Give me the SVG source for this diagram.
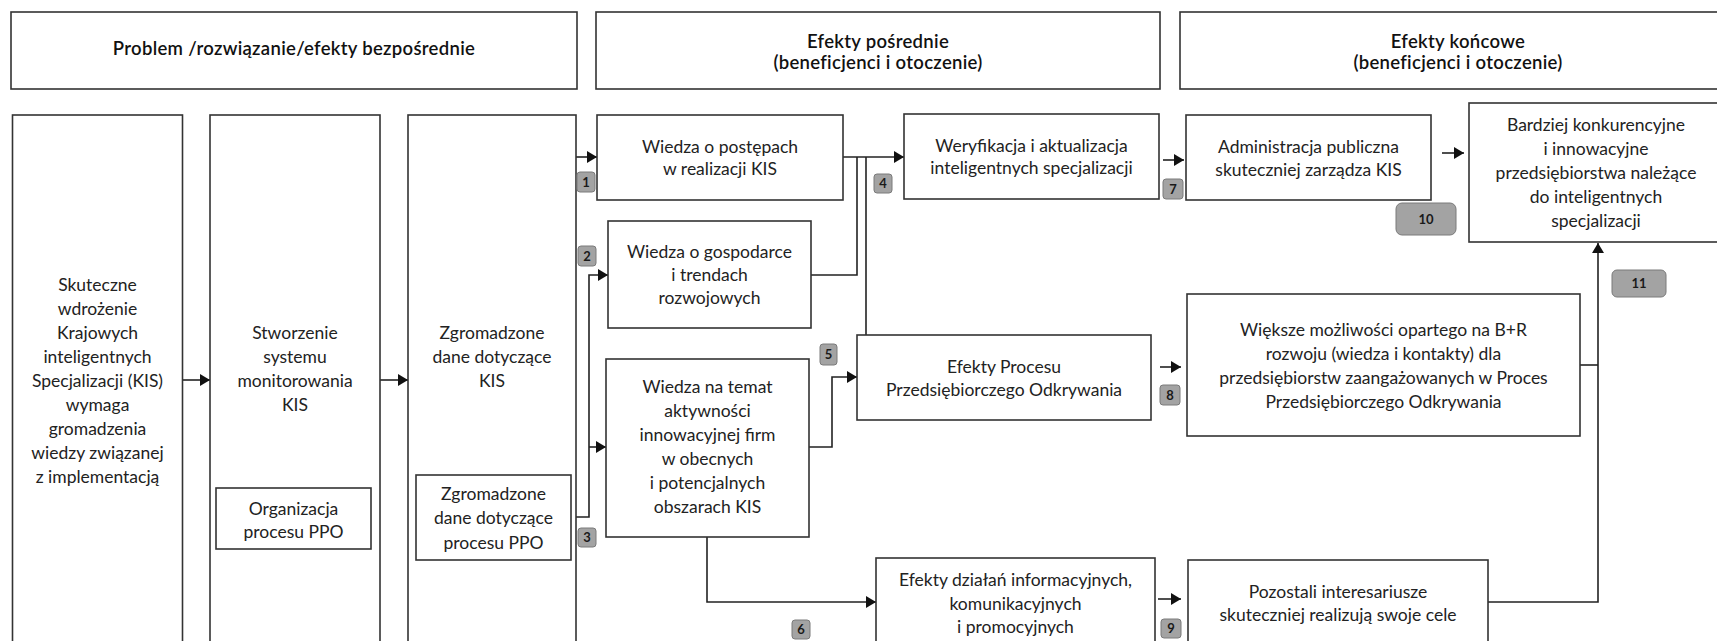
<svg xmlns="http://www.w3.org/2000/svg" width="1717" height="641" viewBox="0 0 1717 641">
  <defs>
    <marker id="arr" markerUnits="userSpaceOnUse" markerWidth="11" markerHeight="12" refX="10" refY="6" orient="auto">
      <path d="M0,0 L10,6 L0,12 z" fill="#111"/>
    </marker>
    <style>
      .box { fill: #fff; stroke: #333; stroke-width: 1.6; }
      .t { font-family: Lato, "Liberation Sans", sans-serif; font-size: 17.5px; fill: #222; text-anchor: middle; }
      .h { font-family: Lato, "Liberation Sans", sans-serif; font-size: 18.5px; font-weight: 600; letter-spacing: 0.3px; fill: #111; text-anchor: middle; }
      .ln { fill: none; stroke: #222; stroke-width: 1.6; }
      .ar { fill: none; stroke: #222; stroke-width: 1.6; marker-end: url(#arr); }
      .bd { fill: #a3a3a3; stroke: #7a7a7a; stroke-width: 1; }
      .bt { font-family: Lato, "Liberation Sans", sans-serif; font-size: 13px; font-weight: 700; fill: #1a1a1a; text-anchor: middle; }
    </style>
  </defs>
  <rect width="1717" height="641" fill="#fff"/>

  <!-- column headers -->
  <g id="header-problem">
    <rect class="box" x="11" y="12" width="566" height="77"/>
    <text class="h" x="294" y="55">Problem /rozwiązanie/efekty bezpośrednie</text>
  </g>
  <g id="header-intermediate">
    <rect class="box" x="596" y="12" width="564" height="77"/>
    <text class="h" x="878" y="48">Efekty pośrednie</text>
    <text class="h" x="878" y="69">(beneficjenci i otoczenie)</text>
  </g>
  <g id="header-final">
    <rect class="box" x="1180" y="12" width="564" height="77"/>
    <text class="h" x="1458" y="48">Efekty końcowe</text>
    <text class="h" x="1458" y="69">(beneficjenci i otoczenie)</text>
  </g>

  <!-- connectors -->
  <g id="connectors">
    <path class="ar" d="M183,380 H210"/>
    <path class="ar" d="M380,380 H408"/>
    <path class="ar" d="M576,157 H597"/>
    <path class="ar" d="M571,517 H589 V275 H608"/>
    <path class="ar" d="M589,447 H606"/>
    <path class="ar" d="M843,157 H904"/>
    <path class="ln" d="M811,275 H857 V157"/>
    <path class="ln" d="M866,335 V157"/>
    <path class="ar" d="M809,447 H832 V377 H857"/>
    <path class="ar" d="M707,537 V602 H876"/>
    <path class="ar" d="M1163,160 H1184"/>
    <path class="ar" d="M1442,153 H1464"/>
    <path class="ar" d="M1160,367 H1181"/>
    <path class="ar" d="M1158,599 H1181"/>
    <path class="ln" d="M1580,365 H1598"/>
    <path class="ar" d="M1488,602 H1598 V243"/>
  </g>

  <!-- problem / solution / direct effects -->
  <g id="node-skuteczne">
    <rect class="box" x="12.5" y="115" width="170" height="545"/>
    <text class="t" x="97.5" y="291">Skuteczne</text>
    <text class="t" x="97.5" y="315">wdrożenie</text>
    <text class="t" x="97.5" y="339">Krajowych</text>
    <text class="t" x="97.5" y="363">inteligentnych</text>
    <text class="t" x="97.5" y="387">Specjalizacji (KIS)</text>
    <text class="t" x="97.5" y="411">wymaga</text>
    <text class="t" x="97.5" y="435">gromadzenia</text>
    <text class="t" x="97.5" y="459">wiedzy związanej</text>
    <text class="t" x="97.5" y="483">z implementacją</text>
  </g>
  <g id="node-stworzenie">
    <rect class="box" x="210" y="115" width="170" height="545"/>
    <text class="t" x="295" y="339">Stworzenie</text>
    <text class="t" x="295" y="363">systemu</text>
    <text class="t" x="295" y="387">monitorowania</text>
    <text class="t" x="295" y="411">KIS</text>
  </g>
  <g id="node-organizacja">
    <rect class="box" x="216" y="488" width="155" height="61"/>
    <text class="t" x="293.5" y="515">Organizacja</text>
    <text class="t" x="293.5" y="538">procesu PPO</text>
  </g>
  <g id="node-dane-kis">
    <rect class="box" x="408" y="115" width="168" height="545"/>
    <text class="t" x="492" y="339">Zgromadzone</text>
    <text class="t" x="492" y="363">dane dotyczące</text>
    <text class="t" x="492" y="387">KIS</text>
  </g>
  <g id="node-dane-ppo">
    <rect class="box" x="416" y="475" width="155" height="85"/>
    <text class="t" x="493.5" y="500">Zgromadzone</text>
    <text class="t" x="493.5" y="524">dane dotyczące</text>
    <text class="t" x="493.5" y="549">procesu PPO</text>
  </g>

  <!-- intermediate effects -->
  <g id="node-wiedza-postepy">
    <rect class="box" x="597" y="115" width="246" height="85"/>
    <text class="t" x="720" y="153">Wiedza o postępach</text>
    <text class="t" x="720" y="175">w realizacji KIS</text>
  </g>
  <g id="node-wiedza-gospodarka">
    <rect class="box" x="608" y="221" width="203" height="107"/>
    <text class="t" x="709.5" y="258">Wiedza o gospodarce</text>
    <text class="t" x="709.5" y="281">i trendach</text>
    <text class="t" x="709.5" y="304">rozwojowych</text>
  </g>
  <g id="node-wiedza-aktywnosc">
    <rect class="box" x="606" y="359" width="203" height="178"/>
    <text class="t" x="707.5" y="393">Wiedza na temat</text>
    <text class="t" x="707.5" y="417">aktywności</text>
    <text class="t" x="707.5" y="441">innowacyjnej firm</text>
    <text class="t" x="707.5" y="465">w obecnych</text>
    <text class="t" x="707.5" y="489">i potencjalnych</text>
    <text class="t" x="707.5" y="513">obszarach KIS</text>
  </g>
  <g id="node-weryfikacja">
    <rect class="box" x="904" y="114" width="255" height="85"/>
    <text class="t" x="1031.5" y="152">Weryfikacja i aktualizacja</text>
    <text class="t" x="1031.5" y="174">inteligentnych specjalizacji</text>
  </g>
  <g id="node-efekty-procesu">
    <rect class="box" x="857" y="335" width="294" height="85"/>
    <text class="t" x="1004" y="373">Efekty Procesu</text>
    <text class="t" x="1004" y="396">Przedsiębiorczego Odkrywania</text>
  </g>
  <g id="node-efekty-dzialan">
    <rect class="box" x="876" y="558" width="279" height="100"/>
    <text class="t" x="1015.5" y="586">Efekty działań informacyjnych,</text>
    <text class="t" x="1015.5" y="610">komunikacyjnych</text>
    <text class="t" x="1015.5" y="633">i promocyjnych</text>
  </g>

  <!-- final effects -->
  <g id="node-administracja">
    <rect class="box" x="1186" y="115" width="245" height="85"/>
    <text class="t" x="1308.5" y="153">Administracja publiczna</text>
    <text class="t" x="1308.5" y="176">skuteczniej zarządza KIS</text>
  </g>
  <g id="node-bardziej">
    <rect class="box" x="1469" y="103" width="254" height="139"/>
    <text class="t" x="1596" y="131">Bardziej konkurencyjne</text>
    <text class="t" x="1596" y="155">i innowacyjne</text>
    <text class="t" x="1596" y="179">przedsiębiorstwa należące</text>
    <text class="t" x="1596" y="203">do inteligentnych</text>
    <text class="t" x="1596" y="227">specjalizacji</text>
  </g>
  <g id="node-wieksze">
    <rect class="box" x="1187" y="294" width="393" height="142"/>
    <text class="t" x="1383.5" y="336">Większe możliwości opartego na B+R</text>
    <text class="t" x="1383.5" y="360">rozwoju (wiedza i kontakty) dla</text>
    <text class="t" x="1383.5" y="384">przedsiębiorstw zaangażowanych w Proces</text>
    <text class="t" x="1383.5" y="408">Przedsiębiorczego Odkrywania</text>
  </g>
  <g id="node-pozostali">
    <rect class="box" x="1188" y="560" width="300" height="100"/>
    <text class="t" x="1338" y="598">Pozostali interesariusze</text>
    <text class="t" x="1338" y="621">skuteczniej realizują swoje cele</text>
  </g>

  <!-- numbered link badges -->
  <g id="badges">
    <g id="badge-1"><rect class="bd" x="577" y="172" width="18" height="20" rx="3"/><text class="bt" x="586" y="187">1</text></g>
    <g id="badge-2"><rect class="bd" x="578" y="246" width="18" height="20" rx="3"/><text class="bt" x="587" y="261">2</text></g>
    <g id="badge-3"><rect class="bd" x="578" y="528" width="18" height="19" rx="3"/><text class="bt" x="587" y="542">3</text></g>
    <g id="badge-4"><rect class="bd" x="874" y="174" width="18" height="19" rx="3"/><text class="bt" x="883" y="188">4</text></g>
    <g id="badge-5"><rect class="bd" x="820" y="344" width="17" height="21" rx="3"/><text class="bt" x="828.5" y="359">5</text></g>
    <g id="badge-6"><rect class="bd" x="792" y="620" width="18" height="19" rx="3"/><text class="bt" x="801" y="634">6</text></g>
    <g id="badge-7"><rect class="bd" x="1163" y="179" width="20" height="20" rx="3"/><text class="bt" x="1173" y="194">7</text></g>
    <g id="badge-8"><rect class="bd" x="1160" y="385" width="20" height="20" rx="3"/><text class="bt" x="1170" y="400">8</text></g>
    <g id="badge-9"><rect class="bd" x="1161" y="619" width="20" height="19" rx="3"/><text class="bt" x="1171" y="633">9</text></g>
    <g id="badge-10"><rect class="bd" x="1396" y="203" width="60" height="32" rx="6"/><text class="bt" x="1426" y="224">10</text></g>
    <g id="badge-11"><rect class="bd" x="1612" y="270" width="54" height="27" rx="5"/><text class="bt" x="1639" y="288">11</text></g>
  </g>
</svg>
